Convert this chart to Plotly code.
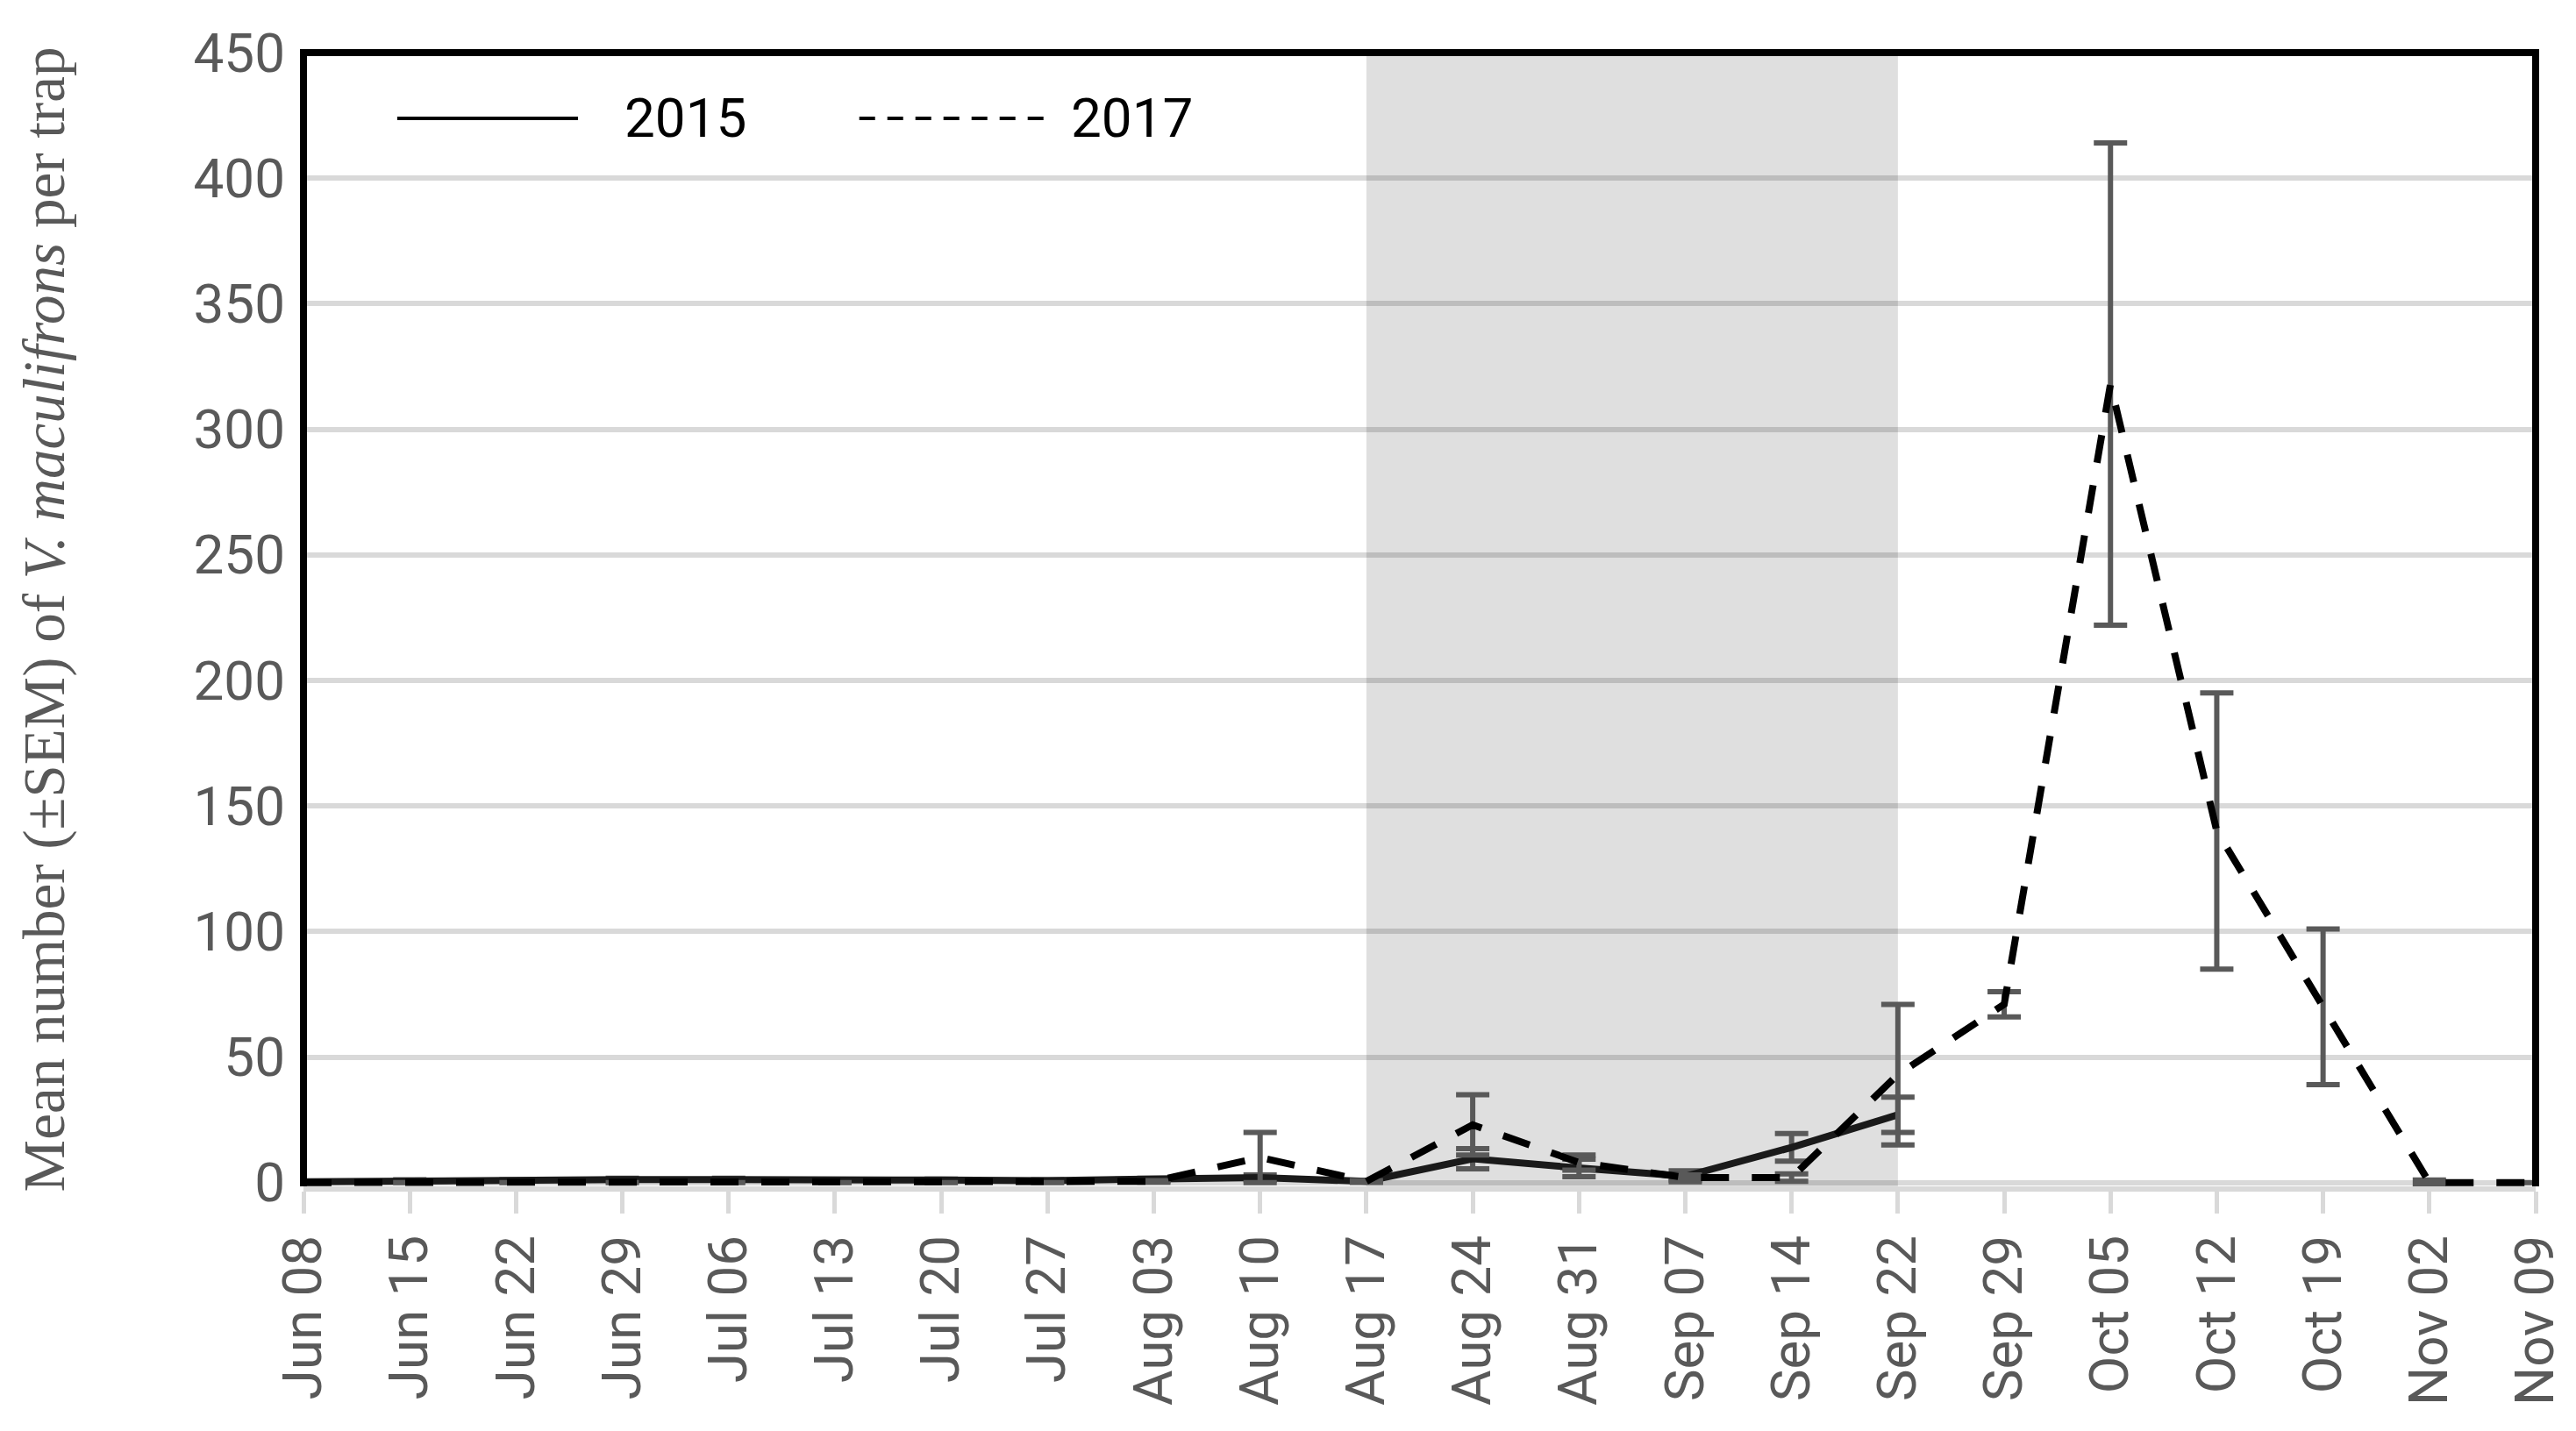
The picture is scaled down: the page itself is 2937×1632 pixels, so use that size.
import plotly.graph_objects as go

categories = ["Jun 08", "Jun 15", "Jun 22", "Jun 29", "Jul 06", "Jul 13", "Jul 20",
              "Jul 27", "Aug 03", "Aug 10", "Aug 17", "Aug 24", "Aug 31", "Sep 07",
              "Sep 14", "Sep 22", "Sep 29", "Oct 05", "Oct 12", "Oct 19", "Nov 02", "Nov 09"]

mean_2015 = [0.3, 0.8, 0.8, 1.2, 1.2, 0.8, 1.0, 0.8, 1.2, 2.0, 0.5, 9.5, 5.8, 2.5,
             14.0, 27.0, None, None, None, None, None, None]
sem_2015 = [0.2, 0.3, 0.3, 0.5, 0.5, 0.3, 0.4, 0.3, 0.5, 1.0, 0.3, 4.0, 3.5, 2.2,
            5.5, 7.0, 0, 0, 0, 0, 0, 0]

mean_2017 = [0, 0, 0, 0, 0, 0, 0, 0, 0.5, 10.0, 0.5, 23.0, 8.0, 2.0, 2.0, 43.0,
             71.0, 318.0, 140.0, 70.0, 0, 0]
sem_2017 = [0, 0, 0, 0, 0, 0, 0, 0, 0.3, 10.0, 0.3, 12.0, 3.0, 1.0, 1.5, 28.0,
            5.0, 96.0, 55.0, 31.0, 1.0, 0]

shade_start = "Aug 17"
shade_end = "Sep 22"

GRAY_TXT = "#595959"
ERR = "#595959"

fig = go.Figure()

fig.add_trace(go.Scatter(
    x=categories, y=mean_2015, name="2015", mode="lines",
    line=dict(color="#1a1a1a", width=8),
    error_y=dict(type="data", array=sem_2015, visible=True, color=ERR, thickness=6, width=19),
    showlegend=False,
))
fig.add_trace(go.Scatter(
    x=categories, y=mean_2017, name="2017", mode="lines",
    line=dict(color="#000000", width=8, dash="32px,26px"),
    error_y=dict(type="data", array=sem_2017, visible=True, color=ERR, thickness=6, width=19),
    showlegend=False,
))

i0 = categories.index(shade_start)
i1 = categories.index(shade_end)
fig.add_shape(type="rect", xref="x", yref="paper", x0=i0, x1=i1, y0=0, y1=1,
              fillcolor="#dfdfdf", line=dict(width=0), layer="below")

# frame: left, top, right in black
fig.add_shape(type="path", xref="paper", yref="paper", path="M 0,0 L 0,1 L 1,1 L 1,0",
              line=dict(color="black", width=8), layer="above")

# legend drawn inside the plot
leg_y = 0.942
fig.add_shape(type="line", xref="paper", yref="paper", x0=0.042, x1=0.123, y0=leg_y, y1=leg_y,
              line=dict(color="black", width=4))
fig.add_shape(type="line", xref="paper", yref="paper", x0=0.249, x1=0.336, y0=leg_y, y1=leg_y,
              line=dict(color="black", width=4, dash="18px,14px"))
fig.add_annotation(xref="paper", yref="paper", x=0.143, y=leg_y, text="2015", showarrow=False,
                   xanchor="left", yanchor="middle", font=dict(size=62, color="black", family="Roboto"))
fig.add_annotation(xref="paper", yref="paper", x=0.343, y=leg_y, text="2017", showarrow=False,
                   xanchor="left", yanchor="middle", font=dict(size=62, color="black", family="Roboto"))

fig.update_layout(
    width=2937, height=1632,
    margin=dict(l=338, r=54, t=52, b=287),
    paper_bgcolor="white", plot_bgcolor="white",
    font=dict(family="Roboto", color=GRAY_TXT),
    showlegend=False,
)

fig.update_xaxes(
    type="category", categoryorder="array", categoryarray=categories,
    range=[0, len(categories) - 1],
    showgrid=False, zeroline=False,
    showline=True, linecolor="#d9d9d9", linewidth=6,
    ticks="outside", ticklen=25, tickwidth=5, tickcolor="#d9d9d9",
    tickangle=-90, tickfont=dict(size=62, color=GRAY_TXT, family="Roboto"),
)
fig.update_yaxes(
    range=[-1.5, 450], dtick=50, tick0=0,
    showgrid=True, gridcolor="rgba(0,0,0,0.15)", gridwidth=6,
    zeroline=False, showline=False,
    ticks="", ticklabelstandoff=20,
    tickfont=dict(size=62, color=GRAY_TXT, family="Roboto"),
    title=dict(text="Mean number (±SEM) of <i>V. maculifrons</i> per trap",
               font=dict(size=67, color=GRAY_TXT, family="Liberation Serif"),
               standoff=125),
)

fig.write_html("out.html")
